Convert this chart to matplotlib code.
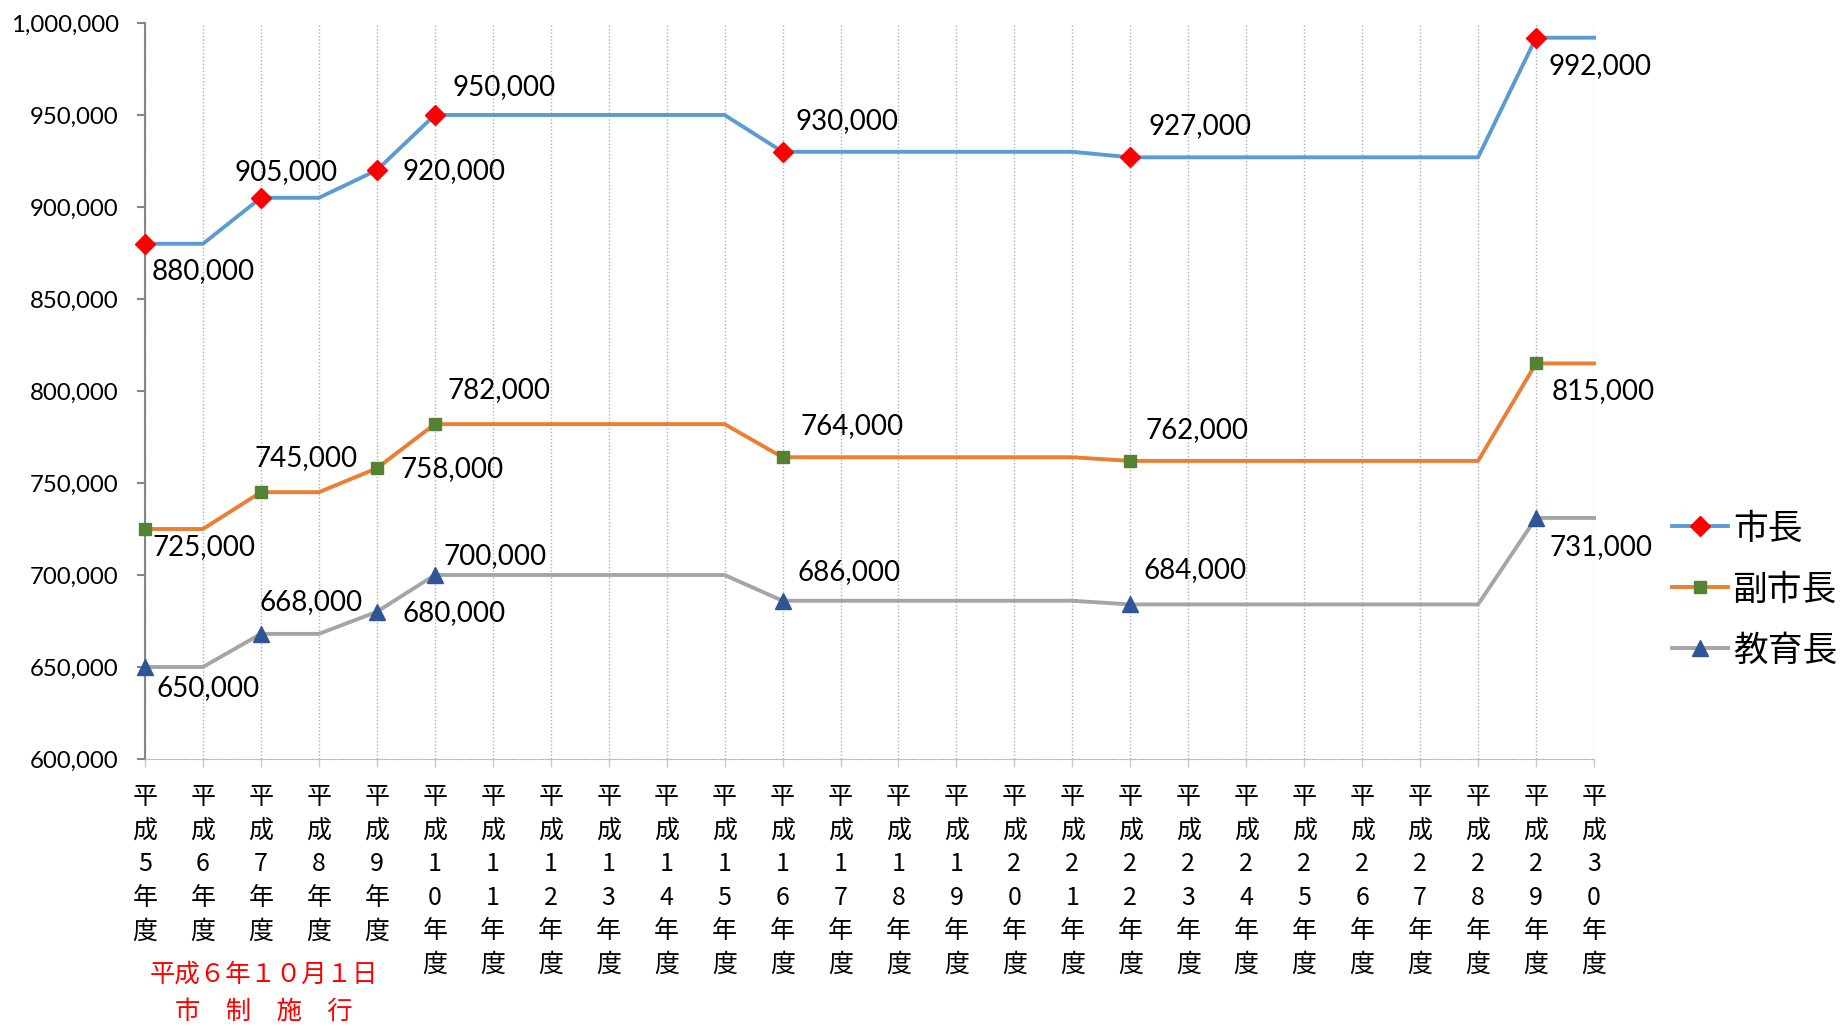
import matplotlib
matplotlib.use("Agg")
import matplotlib.pyplot as plt
from matplotlib.ticker import FuncFormatter

# fiscal years H5 .. H30
years = [f"平成{n}年度" for n in range(5, 31)]

mayor = [880000, 880000, 905000, 905000, 920000, 950000, 950000, 950000, 950000,
         950000, 950000, 930000, 930000, 930000, 930000, 930000, 930000, 927000,
         927000, 927000, 927000, 927000, 927000, 927000, 992000, 992000]
deputy = [725000, 725000, 745000, 745000, 758000, 782000, 782000, 782000, 782000,
          782000, 782000, 764000, 764000, 764000, 764000, 764000, 764000, 762000,
          762000, 762000, 762000, 762000, 762000, 762000, 815000, 815000]
education = [650000, 650000, 668000, 668000, 680000, 700000, 700000, 700000, 700000,
             700000, 700000, 686000, 686000, 686000, 686000, 686000, 686000, 684000,
             684000, 684000, 684000, 684000, 684000, 684000, 731000, 731000]

series_names = ["市長", "副市長", "教育長"]
marked = [0, 2, 4, 5, 11, 17, 24]  # points with marker + value label

note_lines = ["平成６年１０月１日", "市　制　施　行"]

# label offsets in pixels (dx, dy) for each marked point
offsets = {
    "市長": [(7, -27), (-26, 26), (26, -1), (18, 28), (13, 31), (18, 31), (12, -28)],
    "副市長": [(7, -18), (-6, 34), (24, -1), (13, 34), (18, 31), (15, 31), (16, -28)],
    "教育長": [(11, -21), (-1, 32), (26, -1), (9, 19), (15, 29), (13, 34), (13, -29)],
}

styles = {
    "市長": dict(color="#5B9BD5", marker="D", mfc="#FF0000", mec="#FF0000", ms=10.5),
    "副市長": dict(color="#ED7D31", marker="s", mfc="#548235", mec="#548235", ms=9),
    "教育長": dict(color="#A5A5A5", marker="^", mfc="#2F5597", mec="#2F5597", ms=12),
}

W, H = 1845, 1026
fig = plt.figure(figsize=(W / 100, H / 100), dpi=100)
ax = fig.add_axes([145 / W, 1 - 759 / H, (1594 - 145) / W, (759 - 23) / H])

x = list(range(len(years)))
num_font = "Lato"
cjk = ["Noto Sans CJK JP", "DejaVu Sans"]

for name, values in zip(series_names, [mayor, deputy, education]):
    st = styles[name]
    ax.plot(x, values, color=st["color"], lw=2.8, marker=st["marker"], markevery=marked,
            markerfacecolor=st["mfc"], markeredgecolor=st["mec"], markersize=st["ms"],
            label=name, zorder=3, clip_on=False)
    for i, (dx, dy) in zip(marked, offsets[name]):
        ax.annotate(f"{values[i]:,}", (x[i], values[i]), xytext=(dx, dy),
                    textcoords="offset pixels", ha="left", va="center",
                    fontsize=20, family=num_font, color="black", zorder=4)

ax.set_xlim(0, len(years) - 1)
ax.set_ylim(600000, 1000000)
ax.set_yticks(range(600000, 1000001, 50000))
ax.yaxis.set_major_formatter(FuncFormatter(lambda v, p: f"{v:,.0f}"))
ax.set_xticks(x)
ax.set_xticklabels(["\n".join(lbl) for lbl in years], family=cjk, fontsize=18,
                   linespacing=1.38, va="top")
for lbl in ax.get_yticklabels():
    lbl.set_family(num_font)
    lbl.set_fontsize(17.3)

ax.grid(axis="x", color="#B0B0B0", linestyle=(0, (1, 1.5)), linewidth=1)
ax.spines["top"].set_visible(False)
ax.spines["right"].set_visible(False)
ax.spines["left"].set_color("#868686")
ax.spines["left"].set_linewidth(1.5)
ax.spines["bottom"].set_color("#B0B0B0")
ax.spines["bottom"].set_linestyle((0, (1, 1.5)))
ax.tick_params(axis="y", length=6, color="#868686", width=1.5, pad=13)
ax.tick_params(axis="x", length=6, color="#C8C8C8", width=1, pad=12)

ax.legend(loc="center left", bbox_to_anchor=(1672 / W, 1 - 590 / H),
          bbox_transform=fig.transFigure, frameon=False, prop={"family": cjk, "size": 25},
          handlelength=1.6, handletextpad=0.15, labelspacing=0.75, borderpad=0,
          borderaxespad=0)

for line, ypx in zip(note_lines, [975, 1012]):
    fig.text(264 / W, 1 - ypx / H, line, ha="center", va="center", color="#FF0000",
             family=cjk, fontsize=18.3)

fig.savefig("out.png", dpi=100)
